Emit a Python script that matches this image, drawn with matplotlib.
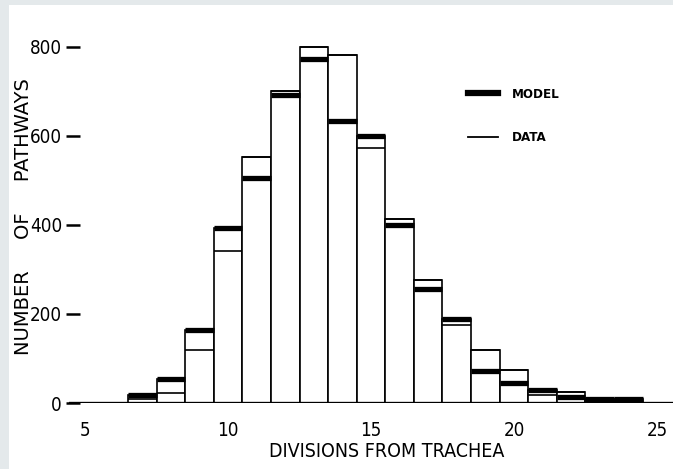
import numpy as np
import matplotlib
matplotlib.use("Agg")
import matplotlib.pyplot as plt
from matplotlib import font_manager
from matplotlib.patches import Rectangle
from matplotlib.lines import Line2D

# Number of pathways per count of divisions from the trachea
divisions = [7, 8, 9, 10, 11, 12, 13, 14, 15, 16, 17, 18, 19, 20, 21, 22, 23, 24]
model_counts = [18, 55, 165, 393, 506, 692, 772, 633, 600, 400, 255, 188, 72, 45, 30, 14, 10, 9]
data_counts = [8, 22, 118, 342, 553, 700, 800, 782, 573, 413, 276, 175, 120, 75, 18, 24, 5, 4]

x_ticks = [5, 10, 15, 20, 25]
y_ticks = [0, 200, 400, 600, 800]
x_title = "DIVISIONS FROM TRACHEA"
y_title = "NUMBER     OF     PATHWAYS"
legend_labels = ["MODEL", "DATA"]

installed = {f.name for f in font_manager.fontManager.ttflist}
if "Liberation Sans Narrow" in installed:
    narrow = dict(family="Liberation Sans Narrow")
else:
    narrow = dict(family="DejaVu Sans", stretch="condensed")

W, H = 673, 469
fig = plt.figure(figsize=(W / 100, H / 100), dpi=100)
fig.patch.set_facecolor("#e4e9eb")
fig.add_artist(Rectangle((9 / W, 0), 1 - 9 / W, 1 - 5 / H, transform=fig.transFigure,
                         facecolor="white", edgecolor="none", zorder=-5))

ax = fig.add_axes([69 / W, 1 - 403 / H, 1 - 69 / W, 383 / H])
ax.set_facecolor("none")
ax.set_xlim(4.44, 25.56)
ax.set_ylim(0, 860)

div = np.asarray(divisions, dtype=float)
model = np.asarray(model_counts, dtype=float)
data = np.asarray(data_counts, dtype=float)

# outline of each bin reaches the taller of the two counts
ax.bar(div, np.maximum(model, data), width=1.0, facecolor="white",
       edgecolor="black", linewidth=1.2, zorder=2)
ax.hlines(model, div - 0.5, div + 0.5, colors="black", linewidth=3.8, zorder=3)
ax.hlines(data, div - 0.5, div + 0.5, colors="black", linewidth=1.2, zorder=3)
ax.axhline(0, color="black", linewidth=2.4, zorder=4)

for side in ("top", "right", "bottom"):
    ax.spines[side].set_visible(False)
ax.spines["left"].set_position(("data", 4.83))
ax.spines["left"].set_color("none")

ax.set_yticks(y_ticks)
ax.set_xticks(x_ticks)
ax.tick_params(axis="y", direction="out", length=10, width=1.8, pad=3, labelsize=13.5)
ax.tick_params(axis="x", length=0, pad=13, labelsize=13.5)
for lab in ax.get_xticklabels() + ax.get_yticklabels():
    lab.set(**narrow)

ax.set_xlabel(x_title, fontsize=14, **narrow)
ax.xaxis.set_label_coords((387 - 69) / 604, -0.102)

ax.set_ylabel(y_title, fontsize=14, family="DejaVu Sans")
ax.yaxis.set_label_coords((33 - 69) / 604, (403 - 217) / 383)

handles = [Line2D([], [], color="black", linewidth=4.5),
           Line2D([], [], color="black", linewidth=1.3)]
leg = ax.legend(handles, legend_labels, loc="upper left",
                bbox_to_anchor=(468 / W, 1 - 88 / H), bbox_transform=fig.transFigure,
                frameon=False, borderpad=0, borderaxespad=0, handlelength=2.3,
                handletextpad=1.0, labelspacing=2.3,
                prop=font_manager.FontProperties(weight="bold", size=9.5, **narrow))

fig.savefig("out.png", dpi=100, facecolor=fig.get_facecolor())
